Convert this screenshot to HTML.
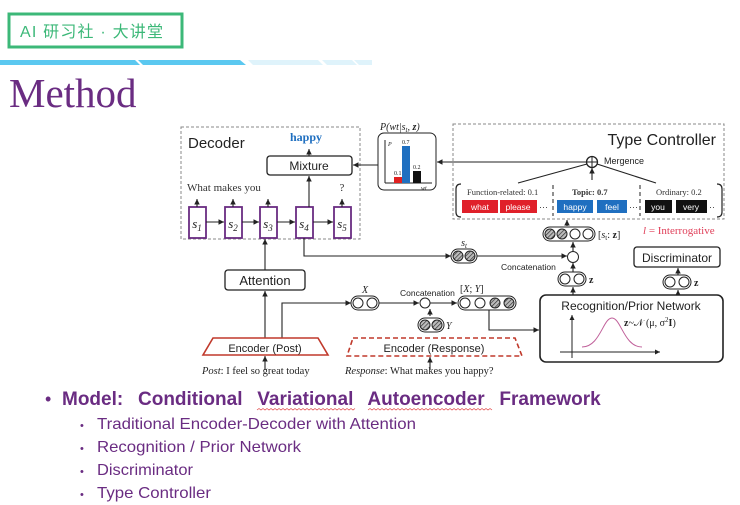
<!DOCTYPE html>
<html><head><meta charset="utf-8"><style>
html,body{margin:0;padding:0;background:#fff;width:740px;height:505px;overflow:hidden}
svg{display:block}
.s{font-family:"Liberation Sans",sans-serif}
.f{font-family:"Liberation Serif",serif}
</style></head><body>
<svg width="740" height="505" viewBox="0 0 740 505" xmlns="http://www.w3.org/2000/svg">
<defs>
<marker id="a" markerWidth="6" markerHeight="6" refX="5" refY="3" orient="auto"><path d="M0,0.5 L5,3 L0,5.5z" fill="#222"/></marker>
<pattern id="h" width="3" height="3" patternUnits="userSpaceOnUse" patternTransform="rotate(45)"><rect width="3" height="3" fill="#bbb"/><line x1="0" y1="0" x2="0" y2="3" stroke="#333" stroke-width="1.4"/></pattern>
</defs>
<rect x="9" y="14" width="173" height="33" fill="none" stroke="#3cb878" stroke-width="3"/>
<text x="20" y="37" font-size="16" fill="#3cb878" textLength="143" lengthAdjust="spacing" style="font-family:'Liberation Sans','Noto Sans CJK SC',sans-serif">AI 研习社 · 大讲堂</text>
<polygon points="0,60 135,60 140,65 0,65" fill="#5bc8f0"/>
<polygon points="138,60 240,60 246,65 143,65" fill="#5bc8f0"/>
<polygon points="248,60 318,60 323,65 253,65" fill="#dff3fb"/>
<polygon points="322,60 352,60 357,65 327,65" fill="#dff3fb"/>
<polygon points="354,60 372,60 372,65 359,65" fill="#dff3fb"/>
<text x="9" y="107" class="f" font-size="41" fill="#6a2c82">Method</text>

<g fill="none" stroke="#222" stroke-width="1.3">
<rect x="181" y="127" width="179" height="112" stroke="#888" stroke-dasharray="3,2" stroke-width="1"/>
<rect x="453" y="124" width="271" height="95" stroke="#888" stroke-dasharray="3,2" stroke-width="1"/>
<rect x="267" y="156" width="85" height="19" rx="3"/>
<rect x="225" y="270" width="80" height="20" rx="3"/>
<rect x="378" y="133" width="58" height="57" rx="6" stroke-width="1"/>
<rect x="634" y="247" width="86" height="20" rx="3"/>
<rect x="540" y="295" width="183" height="67" rx="6" stroke-width="1.6"/>
</g>
<g fill="#fff" stroke="#6a2c82" stroke-width="1.8">
<rect x="189" y="207" width="17" height="31"/><rect x="225" y="207" width="17" height="31"/>
<rect x="260" y="207" width="17" height="31"/><rect x="296" y="207" width="17" height="31"/>
<rect x="334" y="207" width="17" height="31"/>
</g>
<g class="f" font-style="italic" font-size="13" fill="#222" text-anchor="middle">
<text x="197" y="228">s<tspan font-size="9" dy="3">1</tspan></text>
<text x="233" y="228">s<tspan font-size="9" dy="3">2</tspan></text>
<text x="268" y="228">s<tspan font-size="9" dy="3">3</tspan></text>
<text x="304" y="228">s<tspan font-size="9" dy="3">4</tspan></text>
<text x="342" y="228">s<tspan font-size="9" dy="3">5</tspan></text>
</g>
<g stroke="#222" stroke-width="1.1" fill="none" marker-end="url(#a)">
<line x1="206" y1="222" x2="224" y2="222"/><line x1="242" y1="222" x2="259" y2="222"/>
<line x1="277" y1="222" x2="295" y2="222"/><line x1="313" y1="222" x2="333" y2="222"/>
<line x1="197" y1="207" x2="197" y2="199"/><line x1="233" y1="207" x2="233" y2="199"/>
<line x1="268" y1="207" x2="268" y2="199"/><line x1="342" y1="207" x2="342" y2="199"/>
<line x1="309" y1="207" x2="309" y2="176"/><line x1="309" y1="156" x2="309" y2="149"/>
<line x1="378" y1="165" x2="353" y2="165"/>
<polyline points="587,162 437,162"/>
<line x1="265" y1="338" x2="265" y2="291"/><line x1="265" y1="270" x2="265" y2="239"/>
<polyline points="282,338 282,303 351,303"/>
<polyline points="304,238 304,256 451,256"/>
<line x1="378" y1="303" x2="419" y2="303"/><line x1="430" y1="303" x2="457" y2="303"/>
<line x1="430" y1="316" x2="430" y2="309"/>
<polyline points="489,310 489,330 539,330"/>
<line x1="476" y1="256" x2="567" y2="256"/>
<line x1="573" y1="272" x2="573" y2="263"/><line x1="573" y1="251" x2="573" y2="242"/>
<line x1="573" y1="295" x2="573" y2="287"/>
<line x1="678" y1="295" x2="678" y2="290"/><line x1="678" y1="275" x2="678" y2="268"/>
<line x1="567" y1="226" x2="567" y2="220"/>
<line x1="592" y1="180" x2="592" y2="168"/>
<line x1="265" y1="370" x2="265" y2="356"/><line x1="430" y1="370" x2="430" y2="357"/>
</g>
<g stroke="#222" stroke-width="1.1">
<line x1="518" y1="183" x2="587" y2="164"/><line x1="656" y1="183" x2="597" y2="164"/>
</g>
<circle cx="592" cy="162" r="5.5" fill="#fff" stroke="#222" stroke-width="1.3"/>
<line x1="586.5" y1="162" x2="597.5" y2="162" stroke="#222"/><line x1="592" y1="156.5" x2="592" y2="167.5" stroke="#222"/>
<text x="604" y="164" class="s" font-size="9" fill="#222">Mergence</text>
<text x="380" y="130" class="f" font-style="italic" font-size="10" fill="#222">P(wt|s<tspan font-size="7" dy="2">t</tspan><tspan dy="-2">, </tspan><tspan font-weight="bold">z</tspan>)</text>
<line x1="385" y1="183" x2="432" y2="183" stroke="#222"/><line x1="385" y1="183" x2="385" y2="140" stroke="#222"/>
<rect x="394" y="177" width="8" height="6" fill="#e02020"/><rect x="402" y="146" width="8" height="37" fill="#1f6fc0"/><rect x="413" y="171" width="8" height="12" fill="#111"/>
<g class="f" font-size="6" fill="#222"><text x="394" y="175">0.1</text><text x="402" y="144">0.7</text><text x="413" y="169">0.2</text><text x="388" y="146" font-style="italic">P</text><text x="421" y="190" font-style="italic">wt</text></g>
<text x="188" y="148" class="s" font-size="15" fill="#222">Decoder</text>
<text x="290" y="141" class="f" font-size="12" font-weight="bold" fill="#1f6fc0">happy</text>
<text x="309" y="170" class="s" font-size="12" fill="#222" text-anchor="middle">Mixture</text>
<text x="187" y="191" class="f" font-size="11" fill="#333">What  makes  you</text>
<text x="342" y="191" class="f" font-size="11" fill="#333" text-anchor="middle">?</text>
<text x="265" y="285" class="s" font-size="13" fill="#222" text-anchor="middle">Attention</text>
<polygon points="213,338 318,338 328,355 203,355" fill="none" stroke="#c0392b" stroke-width="1.6"/>
<text x="265" y="352" class="s" font-size="11" fill="#222" text-anchor="middle">Encoder (Post)</text>
<polygon points="353,338 515,338 522,356 347,356" fill="none" stroke="#c0392b" stroke-width="1.6" stroke-dasharray="5,3"/>
<text x="434" y="352" class="s" font-size="11" fill="#222" text-anchor="middle">Encoder (Response)</text>
<text x="202" y="374" class="f" font-size="10.5" fill="#222"><tspan font-style="italic">Post</tspan>: I feel so great today</text>
<text x="345" y="374" class="f" font-size="10.5" fill="#222"><tspan font-style="italic">Response</tspan>: What makes you happy?</text>
<g stroke="#222" stroke-width="1">
<rect x="351" y="296" width="28" height="14" rx="7" fill="#fff"/><circle cx="358" cy="303" r="5" fill="#fff"/><circle cx="372" cy="303" r="5" fill="#fff"/>
<circle cx="425" cy="303" r="5" fill="#fff"/>
<rect x="418" y="318" width="26" height="14" rx="7" fill="#fff"/><circle cx="425" cy="325" r="5" fill="url(#h)"/><circle cx="437" cy="325" r="5" fill="url(#h)"/>
<rect x="458" y="296" width="58" height="14" rx="7" fill="#fff"/>
<circle cx="465" cy="303" r="5" fill="#fff"/><circle cx="480" cy="303" r="5" fill="#fff"/><circle cx="495" cy="303" r="5" fill="url(#h)"/><circle cx="509" cy="303" r="5" fill="url(#h)"/>
<rect x="451" y="249" width="26" height="14" rx="7" fill="#fff"/><circle cx="458" cy="256" r="5" fill="url(#h)"/><circle cx="470" cy="256" r="5" fill="url(#h)"/>
<circle cx="573" cy="257" r="5.5" fill="#fff"/>
<rect x="558" y="272" width="28" height="14" rx="7" fill="#fff"/><circle cx="565" cy="279" r="5" fill="#fff"/><circle cx="579" cy="279" r="5" fill="#fff"/>
<rect x="663" y="275" width="28" height="14" rx="7" fill="#fff"/><circle cx="670" cy="282" r="5" fill="#fff"/><circle cx="684" cy="282" r="5" fill="#fff"/>
<rect x="543" y="227" width="52" height="14" rx="7" fill="#fff"/>
<circle cx="550" cy="234" r="5" fill="url(#h)"/><circle cx="562" cy="234" r="5" fill="url(#h)"/><circle cx="575" cy="234" r="5" fill="#fff"/><circle cx="588" cy="234" r="5" fill="#fff"/>
</g>
<g class="f" font-size="10" fill="#222">
<text x="365" y="293" font-style="italic" text-anchor="middle">X</text>
<text x="446" y="329" font-style="italic">Y</text>
<text x="460" y="292">[<tspan font-style="italic">X</tspan>; <tspan font-style="italic">Y</tspan>]</text>
<text x="464" y="246" font-style="italic" text-anchor="middle">s<tspan font-size="7" dy="2">t</tspan></text>
<text x="589" y="283" font-weight="bold">z</text><text x="694" y="286" font-weight="bold">z</text>
<text x="598" y="238">[<tspan font-style="italic">s</tspan><tspan font-size="7" dy="2">t</tspan><tspan dy="-2">: </tspan><tspan font-weight="bold">z</tspan>]</text>
<text x="643" y="234" fill="#e0405a" font-size="11"><tspan font-style="italic">l</tspan> = Interrogative</text>
</g>
<text x="400" y="296" class="s" font-size="8.5" fill="#222">Concatenation</text>
<text x="501" y="270" class="s" font-size="8.5" fill="#222">Concatenation</text>
<text x="677" y="262" class="s" font-size="12" fill="#222" text-anchor="middle">Discriminator</text>
<text x="631" y="310" class="s" font-size="12" fill="#222" text-anchor="middle">Recognition/Prior Network</text>
<line x1="560" y1="352" x2="660" y2="352" stroke="#222" marker-end="url(#a)"/>
<line x1="572" y1="358" x2="572" y2="315" stroke="#222" marker-end="url(#a)"/>
<path d="M582,347 C600,347 603,318 612,318 C621,318 624,347 642,347" fill="none" stroke="#c0609a" stroke-width="1"/>
<text x="624" y="326" class="f" font-size="10" fill="#222"><tspan font-weight="bold">z</tspan>~𝒩 (μ, σ<tspan font-size="7" dy="-4">2</tspan><tspan dy="4" font-weight="bold">I</tspan>)</text>
<text x="716" y="145" class="s" font-size="16" fill="#222" text-anchor="end">Type Controller</text>
<path d="M461,184 Q456,184 456,189 L456,212 Q456,217 461,217" fill="none" stroke="#222" stroke-width="1.2"/>
<path d="M717,184 Q722,184 722,189 L722,212 Q722,217 717,217" fill="none" stroke="#222" stroke-width="1.2"/>
<line x1="553" y1="185" x2="553" y2="216" stroke="#222" stroke-dasharray="4,3"/>
<line x1="640" y1="185" x2="640" y2="216" stroke="#222" stroke-dasharray="4,3"/>
<g class="f" font-size="8.5" fill="#333">
<text x="467" y="195">Function-related: 0.1</text>
<text x="572" y="195" font-weight="bold">Topic: 0.7</text>
<text x="656" y="195">Ordinary: 0.2</text>
</g>
<g class="s" font-size="8.5" fill="#fff" text-anchor="middle">
<rect x="462" y="200" width="36" height="13" fill="#e0202a"/><text x="480" y="210">what</text>
<rect x="500" y="200" width="37" height="13" fill="#e0202a"/><text x="518" y="210">please</text>
<rect x="557" y="200" width="36" height="13" fill="#1f6fc0"/><text x="575" y="210">happy</text>
<rect x="597" y="200" width="30" height="13" fill="#1f6fc0"/><text x="612" y="210">feel</text>
<rect x="645" y="200" width="27" height="13" fill="#111"/><text x="658" y="210">you</text>
<rect x="676" y="200" width="31" height="13" fill="#111"/><text x="691" y="210">very</text>
</g>
<g class="s" font-size="9" fill="#333"><text x="539" y="210">···</text><text x="629" y="210">···</text><text x="709" y="210">··</text></g>
<g class="s" fill="#6a2c82">
<text x="45" y="405" font-size="18">•</text>
<text x="62" y="405" font-size="19" font-weight="bold" word-spacing="9.5">Model: Conditional Variational Autoencoder Framework</text>
<g font-size="16">
<text x="80" y="429" font-size="11">•</text><text x="97" y="429" textLength="319" lengthAdjust="spacingAndGlyphs">Traditional Encoder-Decoder with Attention</text>
<text x="80" y="452" font-size="11">•</text><text x="97" y="452" textLength="204" lengthAdjust="spacingAndGlyphs">Recognition / Prior Network</text>
<text x="80" y="475" font-size="11">•</text><text x="97" y="475" textLength="96" lengthAdjust="spacingAndGlyphs">Discriminator</text>
<text x="80" y="498" font-size="11">•</text><text x="97" y="498" textLength="114" lengthAdjust="spacingAndGlyphs">Type Controller</text>
</g></g>
<path d="M257,410 l2,-1.5 l2,1.5 l2,-1.5 l2,1.5 l2,-1.5 l2,1.5 l2,-1.5 l2,1.5 l2,-1.5 l2,1.5 l2,-1.5 l2,1.5 l2,-1.5 l2,1.5 l2,-1.5 l2,1.5 l2,-1.5 l2,1.5 l2,-1.5 l2,1.5 l2,-1.5 l2,1.5 l2,-1.5 l2,1.5 l2,-1.5 l2,1.5 l2,-1.5 l2,1.5 l2,-1.5 l2,1.5 l2,-1.5 l2,1.5 l2,-1.5 l2,1.5 l2,-1.5 l2,1.5 l2,-1.5 l2,1.5 l2,-1.5 l2,1.5 l2,-1.5 l2,1.5 l2,-1.5 l2,1.5 l2,-1.5 l2,1.5 l2,-1.5 l2,1.5 l2,-1.5" fill="none" stroke="#e04040" stroke-width="0.7"/>
<path d="M368,410 l2,-1.5 l2,1.5 l2,-1.5 l2,1.5 l2,-1.5 l2,1.5 l2,-1.5 l2,1.5 l2,-1.5 l2,1.5 l2,-1.5 l2,1.5 l2,-1.5 l2,1.5 l2,-1.5 l2,1.5 l2,-1.5 l2,1.5 l2,-1.5 l2,1.5 l2,-1.5 l2,1.5 l2,-1.5 l2,1.5 l2,-1.5 l2,1.5 l2,-1.5 l2,1.5 l2,-1.5 l2,1.5 l2,-1.5 l2,1.5 l2,-1.5 l2,1.5 l2,-1.5 l2,1.5 l2,-1.5 l2,1.5 l2,-1.5 l2,1.5 l2,-1.5 l2,1.5 l2,-1.5 l2,1.5 l2,-1.5 l2,1.5 l2,-1.5 l2,1.5 l2,-1.5 l2,1.5 l2,-1.5 l2,1.5 l2,-1.5 l2,1.5 l2,-1.5 l2,1.5 l2,-1.5 l2,1.5 l2,-1.5 l2,1.5 l2,-1.5 l2,1.5" fill="none" stroke="#e04040" stroke-width="0.7"/>
</svg>
</body></html>
